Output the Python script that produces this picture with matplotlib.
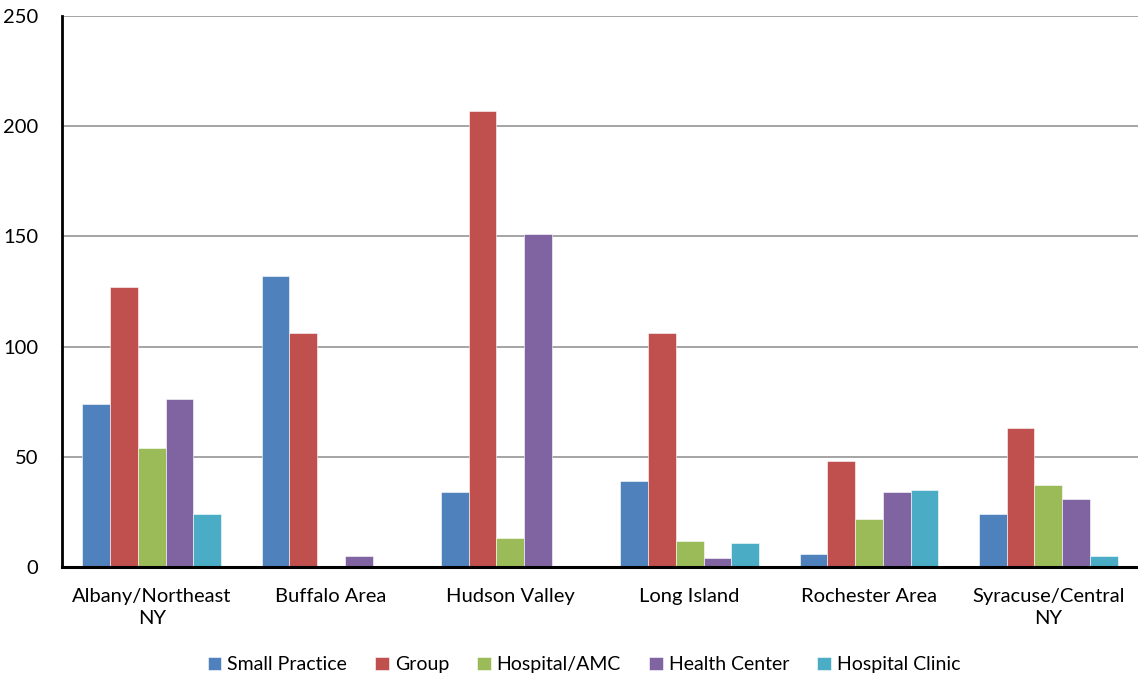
import numpy as np
import matplotlib.pyplot as plt

plt.rcParams['font.family'] = ['Lato', 'DejaVu Sans']

regions = ["Albany/Northeast\nNY", "Buffalo Area", "Hudson Valley",
           "Long Island", "Rochester Area", "Syracuse/Central\nNY"]
small_practice = [74, 132, 34, 39, 6, 24]
group = [127, 106, 207, 106, 48, 63]
hospital_amc = [54, 0, 13, 12, 22, 37]
health_center = [76, 5, 151, 4, 34, 31]
hospital_clinic = [24, 0, 0, 11, 35, 5]

series = [
    ("Small Practice", small_practice, "#4F81BD"),
    ("Group", group, "#C0504D"),
    ("Hospital/AMC", hospital_amc, "#9BBB59"),
    ("Health Center", health_center, "#8064A2"),
    ("Hospital Clinic", hospital_clinic, "#4BACC6"),
]

fig = plt.figure(figsize=(11.38, 6.79), dpi=100)
ax = fig.add_axes([62 / 1138, 1 - 567 / 679, 1076 / 1138, 551 / 679])

x = np.arange(len(regions))
width = 0.155
for i, (name, vals, color) in enumerate(series):
    offs = (i - 2) * width
    ax.bar(x + offs, vals, width, color=color, label=name,
           edgecolor="white", linewidth=0.4, zorder=3)

ax.set_xlim(-0.5, len(regions) - 0.5)
ax.set_ylim(0, 250)
ax.set_yticks(range(0, 251, 50))
ax.set_xticks(x)
ax.set_xticklabels(regions, fontsize=14.5, linespacing=1.4)
ax.tick_params(axis="y", labelsize=14.5, length=0, pad=17)
ax.tick_params(axis="x", length=0, pad=15)
ax.yaxis.grid(True, color="#8c8c8c", linewidth=1.1, zorder=0)
ax.set_axisbelow(True)

for s in ("top", "right"):
    ax.spines[s].set_visible(False)
ax.spines["left"].set_linewidth(2)
ax.spines["bottom"].set_linewidth(2.2)
ax.spines["bottom"].set_zorder(4)

ax.legend(loc="upper center", bbox_to_anchor=(0.485, -0.13), ncol=5,
          frameon=False, fontsize=14, handlelength=0.7, handleheight=0.7,
          handletextpad=0.3, columnspacing=1.45)

plt.savefig("out.png", dpi=100)
